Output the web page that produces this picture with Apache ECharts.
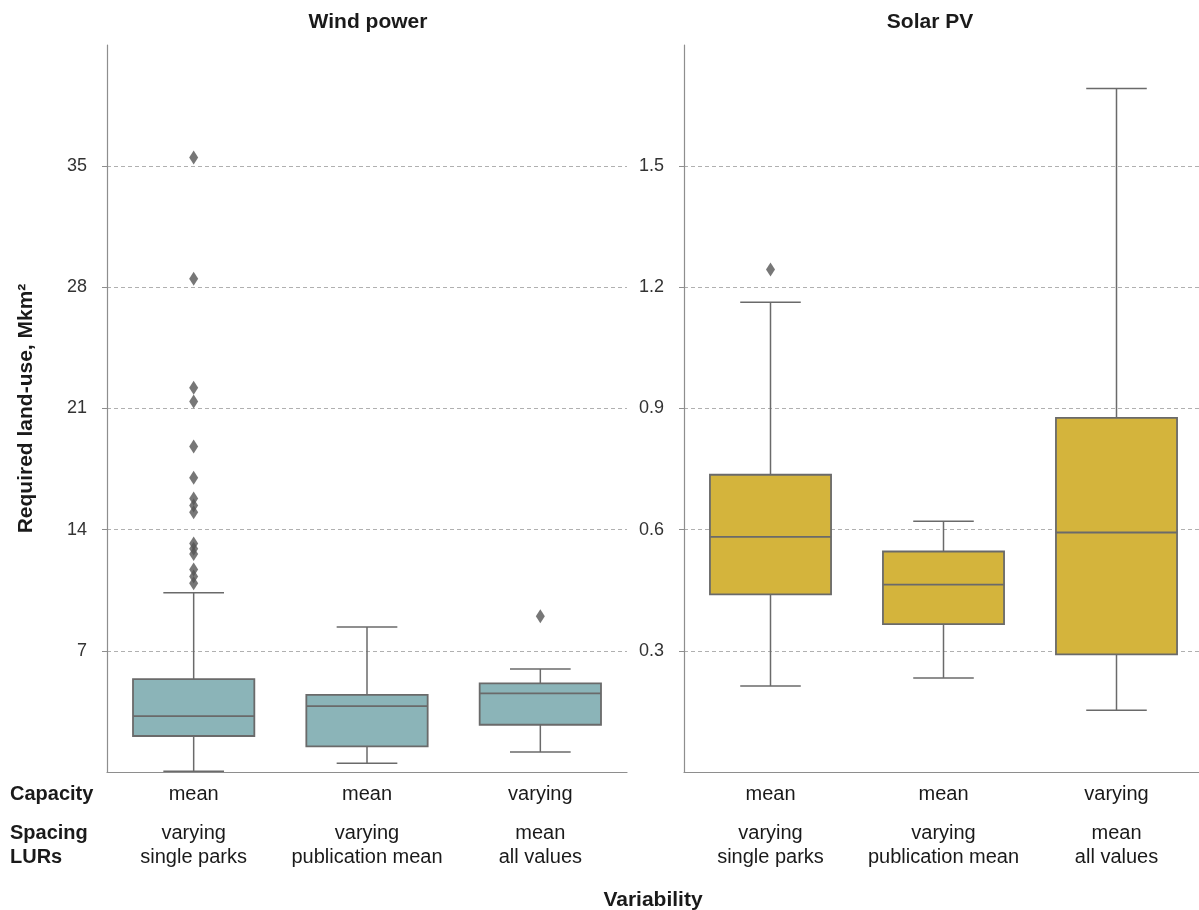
<!DOCTYPE html>
<html>
<head>
<meta charset="utf-8">
<script src="https://cdn.jsdelivr.net/npm/echarts@6/dist/echarts.min.js"></script>
<style>
  html, body { margin: 0; padding: 0; background: #fff; }
  #chart { width: 1199px; height: 910px; }
</style>
</head>
<body>
<div id="chart"></div>
<script>
// ---- data ----
const capacityLabels = ['mean', 'mean', 'varying'];
const spacingLabels = ['varying', 'varying', 'mean'];
const lurLabels = ['single parks', 'publication mean', 'all values'];

// [min whisker, Q1, median, Q3, max whisker]
const windStats = [
  [0.05, 2.08, 3.23, 5.37, 10.35],
  [0.50, 1.48, 3.81, 4.46, 8.37],
  [1.15, 2.73, 4.54, 5.12, 5.95]
];
const windOutliersA = [35.5, 28.5, 22.2, 21.4, 18.8, 17.0, 15.8, 15.4, 15.0, 13.2, 12.9, 12.6, 11.7, 11.3, 10.9];
const windOutliersB = [];
const windOutliersC = [9.0];

const solarStats = [
  [0.213, 0.440, 0.582, 0.736, 1.163],
  [0.233, 0.366, 0.464, 0.546, 0.621],
  [0.153, 0.291, 0.593, 0.877, 1.692]
];
const solarOutliersA = [1.244];
const solarOutliersB = [];
const solarOutliersC = [];

const windTicks = [7, 14, 21, 28, 35];
const solarTicks = [0.3, 0.6, 0.9, 1.2, 1.5];

// ---- styling ----
const WIND_FILL = '#8bb4b8';
const SOLAR_FILL = '#d4b43c';
const EDGE = '#6a6a6a';
const TXT = '#1a1a1a';
const FONT = '"Liberation Sans", Arial, sans-serif';

function boxRenderer(fill) {
  return function (params, api) {
    const x = api.value(0);
    const c = v => api.coord([x, v]);
    const bw = api.size([1, 0])[0] * 0.7;
    const pMin = c(api.value(1)), pQ1 = c(api.value(2)), pMed = c(api.value(3)),
          pQ3 = c(api.value(4)), pMax = c(api.value(5));
    const cx = pMin[0];
    const ls = { stroke: EDGE, lineWidth: 1.5 };
    return {
      type: 'group',
      children: [
        { type: 'line', shape: { x1: cx, y1: pQ3[1], x2: cx, y2: pMax[1] }, style: ls },
        { type: 'line', shape: { x1: cx, y1: pQ1[1], x2: cx, y2: pMin[1] }, style: ls },
        { type: 'line', shape: { x1: cx - bw / 4, y1: pMax[1], x2: cx + bw / 4, y2: pMax[1] }, style: ls },
        { type: 'line', shape: { x1: cx - bw / 4, y1: pMin[1], x2: cx + bw / 4, y2: pMin[1] }, style: ls },
        { type: 'rect', shape: { x: cx - bw / 2, y: pQ3[1], width: bw, height: pQ1[1] - pQ3[1] },
          style: { fill: fill, stroke: EDGE, lineWidth: 1.8 } },
        { type: 'line', shape: { x1: cx - bw / 2, y1: pMed[1], x2: cx + bw / 2, y2: pMed[1] }, style: { stroke: EDGE, lineWidth: 1.8 } }
      ]
    };
  };
}

function statsData(stats) {
  return stats.map((s, i) => [i].concat(s));
}
function outlierData(groups) {
  const out = [];
  groups.forEach((g, i) => g.forEach(v => out.push([i, v])));
  return out;
}

function xAxisCfg(gridIndex) {
  return {
    type: 'category',
    gridIndex: gridIndex,
    data: lurLabels,
    axisLine: { show: true, lineStyle: { color: '#8e8e8e', width: 1.2 } },
    axisTick: { show: false },
    splitLine: { show: false },
    axisLabel: {
      interval: 0,
      margin: 10,
      hideOverlap: false,
      formatter: function (v, i) {
        return '{a|' + capacityLabels[i] + '}\n{s| }\n{b|' + spacingLabels[i] + '}\n{b|' + lurLabels[i] + '}';
      },
      rich: {
        a: { fontSize: 20, lineHeight: 24, color: TXT, fontFamily: FONT },
        s: { fontSize: 1, lineHeight: 15 },
        b: { fontSize: 20, lineHeight: 24, color: TXT, fontFamily: FONT }
      }
    }
  };
}

function yAxisCfg(gridIndex, max, interval, ticks, name) {
  const cfg = {
    type: 'value',
    gridIndex: gridIndex,
    min: 0,
    max: max,
    interval: interval,
    axisLine: { show: true, lineStyle: { color: '#8e8e8e', width: 1.2 } },
    axisTick: { show: true, length: 5, lineStyle: { color: '#8e8e8e' }, customValues: ticks },
    axisLabel: {
      margin: 20,
      fontSize: 18, color: '#333', fontFamily: FONT,
      customValues: ticks
    },
    splitLine: {
      show: true,
      lineStyle: { color: '#b0b0b0', type: [4, 3], width: 1 }
    }
  };
  if (name) {
    cfg.name = name;
    cfg.nameLocation = 'middle';
    cfg.nameGap = 70;
    cfg.nameRotate = 90;
    cfg.nameTextStyle = { fontSize: 21, fontWeight: 'bold', color: TXT, fontFamily: FONT };
  }
  return cfg;
}

const chart = echarts.init(document.getElementById('chart'), null, { renderer: 'canvas' });

const option = {
  backgroundColor: '#fff',
  animation: false,
  grid: [
    { left: 107, top: 45, width: 520, height: 727, outerBoundsMode: 'none' },
    { left: 684, top: 45, width: 519, height: 727, outerBoundsMode: 'none' }
  ],
  xAxis: [xAxisCfg(0), xAxisCfg(1)],
  yAxis: [
    yAxisCfg(0, 42, 7, windTicks, 'Required land-use, Mkm²'),
    yAxisCfg(1, 1.8, 0.3, solarTicks, null)
  ],
  graphic: [
    { type: 'text', x: 368, y: 22, style: { text: 'Wind power', align: 'center', verticalAlign: 'middle', font: 'bold 21px ' + FONT, fill: TXT } },
    { type: 'text', x: 930, y: 22, style: { text: 'Solar PV', align: 'center', verticalAlign: 'middle', font: 'bold 21px ' + FONT, fill: TXT } },
    { type: 'text', x: 10, y: 794, style: { text: 'Capacity', align: 'left', verticalAlign: 'middle', font: 'bold 20px ' + FONT, fill: TXT } },
    { type: 'text', x: 10, y: 833, style: { text: 'Spacing', align: 'left', verticalAlign: 'middle', font: 'bold 20px ' + FONT, fill: TXT } },
    { type: 'text', x: 10, y: 857, style: { text: 'LURs', align: 'left', verticalAlign: 'middle', font: 'bold 20px ' + FONT, fill: TXT } },
    { type: 'text', x: 653, y: 900, style: { text: 'Variability', align: 'center', verticalAlign: 'middle', font: 'bold 21px ' + FONT, fill: TXT } }
  ],
  series: [
    {
      type: 'custom', name: 'Wind power', xAxisIndex: 0, yAxisIndex: 0,
      renderItem: boxRenderer(WIND_FILL),
      encode: { x: 0, y: [1, 2, 3, 4, 5] },
      data: statsData(windStats), z: 2
    },
    {
      type: 'custom', name: 'Solar PV', xAxisIndex: 1, yAxisIndex: 1,
      renderItem: boxRenderer(SOLAR_FILL),
      encode: { x: 0, y: [1, 2, 3, 4, 5] },
      data: statsData(solarStats), z: 2
    },
    {
      type: 'scatter', name: 'Wind outliers', xAxisIndex: 0, yAxisIndex: 0,
      symbol: 'diamond', symbolSize: [9, 14],
      itemStyle: { color: '#555555' },
      data: outlierData([windOutliersA, windOutliersB, windOutliersC]), z: 3
    },
    {
      type: 'scatter', name: 'Solar outliers', xAxisIndex: 1, yAxisIndex: 1,
      symbol: 'diamond', symbolSize: [9, 14],
      itemStyle: { color: '#555555' },
      data: outlierData([solarOutliersA, solarOutliersB, solarOutliersC]), z: 3
    }
  ]
};
chart.setOption(option);
</script>
</body>
</html>
